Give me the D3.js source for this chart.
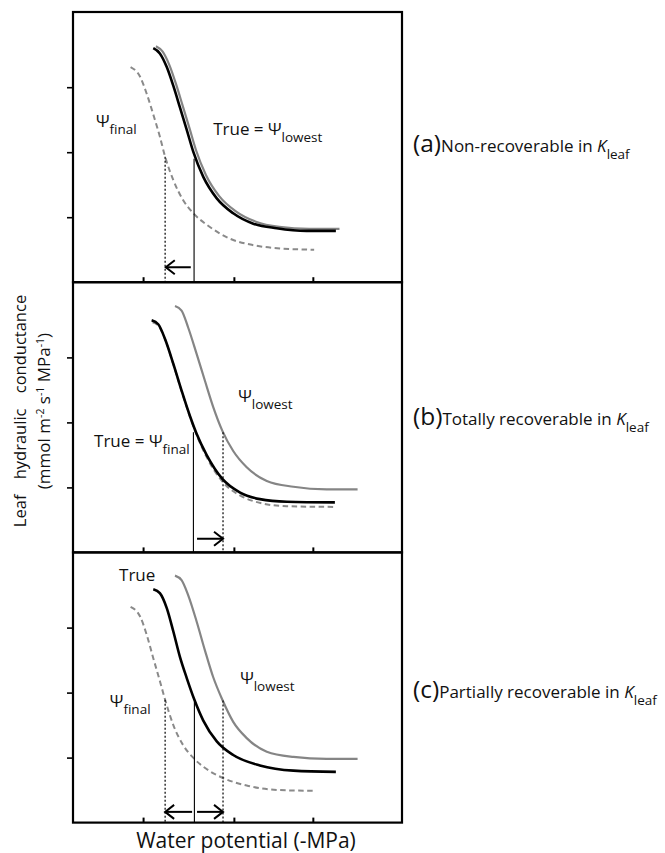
<!DOCTYPE html>
<html><head><meta charset="utf-8">
<script src="https://cdn.jsdelivr.net/npm/d3@7/dist/d3.min.js"></script>
<style>
body{margin:0;background:#fff}
text{font-family:"Open Sans","Noto Sans",sans-serif;fill:#111}
</style>
</head><body>
<svg id="chart" width="665" height="853"></svg>
<script>
// ---------- data ----------
const panelIds = ["a", "b", "c"];
const xTickValues = [2.13, 4.89, 7.29];
const yTickValues = [1, 2, 3];

// panel (a) Non-recoverable
const trueA   = [[2.44,3.60],[2.64,3.52],[2.85,3.31],[3.05,3.02],[3.25,2.69],[3.46,2.34],[3.66,2.00],[3.96,1.62],[4.37,1.29],[4.87,1.06],[5.48,0.90],[6.19,0.83],[7.10,0.79],[7.99,0.79]];
const lowestA = [[2.52,3.63],[2.72,3.55],[2.93,3.34],[3.13,3.05],[3.33,2.72],[3.54,2.37],[3.74,2.03],[4.04,1.65],[4.45,1.32],[4.95,1.09],[5.56,0.93],[6.27,0.85],[7.18,0.82],[8.10,0.82]];
const finalA  = [[1.75,3.31],[2.04,3.16],[2.24,2.90],[2.44,2.58],[2.64,2.24],[2.80,1.93],[3.05,1.57],[3.35,1.26],[3.66,1.06],[4.16,0.85],[4.77,0.67],[5.48,0.57],[6.29,0.52],[7.33,0.50]];
// panel (b) Totally recoverable
const trueB   = [[2.39,3.57],[2.59,3.51],[2.80,3.28],[3.05,2.90],[3.30,2.49],[3.56,2.09],[3.76,1.82],[4.06,1.50],[4.54,1.13],[5.08,0.92],[5.68,0.82],[6.50,0.78],[7.96,0.77]];
const lowestB = [[3.10,3.79],[3.30,3.72],[3.50,3.46],[3.76,3.05],[4.01,2.64],[4.26,2.24],[4.54,1.87],[4.87,1.56],[5.28,1.31],[5.89,1.10],[6.70,1.01],[7.71,0.97],[8.65,0.97]];
const finalB  = [[2.42,3.54],[2.61,3.48],[2.82,3.25],[3.07,2.86],[3.32,2.45],[3.58,2.05],[3.78,1.78],[4.08,1.45],[4.56,1.08],[5.10,0.87],[5.70,0.76],[6.50,0.71],[7.93,0.70]];
// panel (c) Partially recoverable
const trueC   = [[2.44,3.59],[2.64,3.53],[2.85,3.30],[3.05,2.94],[3.25,2.55],[3.46,2.22],[3.69,1.89],[3.96,1.57],[4.37,1.25],[4.87,1.04],[5.68,0.88],[6.70,0.80],[7.99,0.78]];
const lowestC = [[3.10,3.80],[3.30,3.73],[3.50,3.50],[3.76,3.09],[4.01,2.65],[4.26,2.24],[4.54,1.89],[4.87,1.55],[5.28,1.30],[5.89,1.09],[6.70,1.01],[7.71,0.98],[8.65,0.98]];
const finalC  = [[1.75,3.32],[2.04,3.17],[2.24,2.89],[2.44,2.53],[2.64,2.18],[2.80,1.89],[3.05,1.50],[3.35,1.19],[3.69,0.98],[4.16,0.79],[4.54,0.69],[5.28,0.57],[6.29,0.50],[7.33,0.49]];

// drop lines [x, top]
const solidDrops  = {a: [[3.68,1.90]], b: [[3.66,1.85]], c: [[3.69,1.86]]};
const dottedDrops = {a: [[2.80,1.93]], b: [[4.56,1.85]], c: [[2.80,1.89],[4.56,1.88]]};
// arrows [from, to, level]
const arrowsData  = {a: [[3.58,2.82,0.23]], b: [[3.77,4.56,0.21]], c: [[3.62,2.80,0.165],[3.77,4.56,0.165]]};

// in-panel labels [main, subscript, x, y]
const labelsA = [["\u03A8","final",0.70,2.39],["True = \u03A8","lowest",4.26,2.26]];
const labelsB = [["\u03A8","lowest",5.02,2.31],["True = \u03A8","final",0.64,1.62]];
const labelsC = [["True","",1.40,3.72],["\u03A8","lowest",5.08,2.13],["\u03A8","final",1.12,1.78]];

const panelTitles = [["(a)","Non-recoverable in "],["(b)","Totally recoverable in "],["(c)","Partially recoverable in "]];
const xTitle = "Water potential (-MPa)";
const yTitle1 = "Leaf hydraulic conductance";

// ---------- layout ----------
const svg = d3.select("#chart");
const left = 73, right = 402, top0 = 12, ph = 270.2;
const x = d3.scaleLinear().domain([0, 10]).range([left, right]);
const yMax = ph / 65;

const panels = [
  {id:"a", tru:trueA, low:lowestA, fin:finalA, labels:labelsA},
  {id:"b", tru:trueB, low:lowestB, fin:finalB, labels:labelsB},
  {id:"c", tru:trueC, low:lowestC, fin:finalC, labels:labelsC}
];

panels.forEach((p, i) => {
  const top = top0 + i * ph, bottom = top + ph;
  const y = d3.scaleLinear().domain([0, yMax]).range([bottom, top]);
  const g = svg.append("g");
  const line = d3.line().x(d => x(d[0])).y(d => y(d[1])).curve(d3.curveMonotoneX);

  // curves
  g.append("path").attr("d", line(p.fin)).attr("fill","none")
    .attr("stroke","#8a8a8a").attr("stroke-width",2).attr("stroke-dasharray","5.5,3.5");
  g.append("path").attr("d", line(p.low)).attr("fill","none")
    .attr("stroke","#858585").attr("stroke-width",2.2);
  g.append("path").attr("d", line(p.tru)).attr("fill","none")
    .attr("stroke","#000").attr("stroke-width",2.6);

  // drop lines
  solidDrops[p.id].forEach(d => {
    g.append("line").attr("x1",x(d[0])).attr("x2",x(d[0])).attr("y1",y(d[1])).attr("y2",y(0))
      .attr("stroke","#000").attr("stroke-width",1.1);
  });
  dottedDrops[p.id].forEach(d => {
    g.append("line").attr("x1",x(d[0])).attr("x2",x(d[0])).attr("y1",y(d[1])).attr("y2",y(0))
      .attr("stroke","#000").attr("stroke-width",1.2).attr("stroke-dasharray","2,2");
  });
  // arrows
  arrowsData[p.id].forEach(a => {
    const x0 = x(a[0]), x1 = x(a[1]), yy = y(a[2]);
    const dir = Math.sign(x1 - x0);
    g.append("line").attr("x1",x0).attr("x2",x1).attr("y1",yy).attr("y2",yy)
      .attr("stroke","#000").attr("stroke-width",2);
    g.append("path").attr("d", `M${x1 - dir*9},${yy-7}L${x1},${yy}L${x1 - dir*9},${yy+7}`)
      .attr("fill","none").attr("stroke","#000").attr("stroke-width",2);
  });

  // axes
  g.append("g").attr("transform",`translate(0,${bottom})`)
    .call(d3.axisBottom(x).tickValues(xTickValues).tickSizeInner(-5).tickSizeOuter(0).tickFormat(""))
    .call(s => s.select(".domain").remove())
    .call(s => s.selectAll("line").attr("stroke","#000").attr("stroke-width",2));
  g.append("g").attr("transform",`translate(${left},0)`)
    .call(d3.axisLeft(y).tickValues(yTickValues).tickSizeInner(6).tickSizeOuter(0).tickFormat(""))
    .call(s => s.select(".domain").remove())
    .call(s => s.selectAll("line").attr("stroke","#000").attr("stroke-width",1.6));

  // frame
  g.append("rect").attr("x",left).attr("y",top).attr("width",right-left).attr("height",ph)
    .attr("fill","none").attr("stroke","#000").attr("stroke-width",2.2);

  // labels
  p.labels.forEach(l => {
    const t = g.append("text").attr("x",x(l[2])).attr("y",y(l[3])).attr("font-size",17);
    t.append("tspan").text(l[0]);
    if (l[1]) t.append("tspan").attr("dy",7).attr("font-size",13.5).text(l[1]);
  });

  // right titles
  const tt = svg.append("text").attr("x",413).attr("y",[152,425,698][i]);
  tt.append("tspan").attr("font-size",24.5).text(panelTitles[i][0]);
  tt.append("tspan").attr("font-size",17).text(panelTitles[i][1]);
  tt.append("tspan").attr("font-size",17).attr("font-style","italic").text("K");
  tt.append("tspan").attr("font-size",13.5).attr("dy",7).text("leaf");
});

// x title
svg.append("text").attr("x",246).attr("y",848).attr("text-anchor","middle")
  .attr("font-size",21).text(xTitle);

// y titles
svg.append("text").attr("transform","translate(26,411) rotate(-90)").attr("text-anchor","middle")
  .attr("font-size",16.5).attr("word-spacing",11).text(yTitle1);
const yt2 = svg.append("text").attr("transform","translate(50,411) rotate(-90)").attr("text-anchor","middle")
  .attr("font-size",17);
yt2.append("tspan").text("(mmol m");
yt2.append("tspan").attr("dy",-6).attr("font-size",10.5).text("-2");
yt2.append("tspan").attr("dy",6).text(" s");
yt2.append("tspan").attr("dy",-6).attr("font-size",10.5).text("-1");
yt2.append("tspan").attr("dy",6).text(" MPa");
yt2.append("tspan").attr("dy",-6).attr("font-size",10.5).text("-1");
yt2.append("tspan").attr("dy",6).text(")");
</script>
</body></html>
